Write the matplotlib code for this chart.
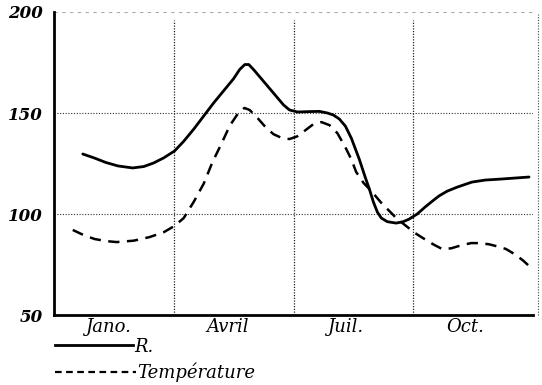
import matplotlib
matplotlib.use("Agg")
import matplotlib.pyplot as plt
from matplotlib.lines import Line2D

# Month position (0 = start of January, 12 = end of December) and values
r_months = [0.72, 1.0, 1.3, 1.6, 1.97, 2.25, 2.5, 2.75, 3.02, 3.25, 3.5, 3.75,
            4.0, 4.25, 4.5, 4.65, 4.78, 4.88, 5.0, 5.15, 5.3, 5.45, 5.6, 5.75,
            5.9, 6.1, 6.4, 6.65, 6.85, 7.0, 7.15, 7.3, 7.45, 7.65, 7.8, 7.9,
            8.0, 8.1, 8.2, 8.35, 8.57, 8.75, 8.9, 9.1, 9.3, 9.5, 9.65, 9.85,
            10.1, 10.47, 10.8, 11.2, 11.55, 11.9]
r_values = [129.7, 127.8, 125.5, 123.8, 122.8, 123.5, 125.3, 127.8, 131.2, 136.0,
            142.0, 148.5, 155.0, 161.0, 167.0, 171.5, 174.0, 174.0, 171.5, 168.0,
            164.5, 161.0, 157.5, 154.0, 151.5, 150.5, 150.7, 150.8, 150.0, 149.0,
            147.0, 143.5, 137.5, 127.0, 118.0, 112.4, 106.0, 101.0, 98.0, 96.2,
            95.5, 96.2, 97.5, 100.0, 103.5, 106.7, 109.0, 111.3, 113.3, 115.8,
            116.8, 117.3, 117.8, 118.3]

t_months = [0.47, 0.75, 1.02, 1.3, 1.57, 2.0, 2.4, 2.75, 3.02, 3.25, 3.5, 3.75,
            3.97, 4.2, 4.4, 4.6, 4.77, 4.9, 5.1, 5.3, 5.5, 5.7, 5.9, 6.1, 6.3,
            6.5, 6.7, 6.9, 7.1, 7.3, 7.45, 7.57, 7.75, 7.97, 8.2, 8.4, 8.6,
            8.82, 9.05, 9.25, 9.5, 9.72, 9.95, 10.2, 10.45, 10.65, 10.9, 11.1,
            11.32, 11.55, 11.75, 11.9]
t_values = [92.1, 89.5, 87.6, 86.6, 86.1, 86.8, 88.6, 91.0, 94.1, 98.0, 106.0,
            115.0, 125.7, 135.0, 143.6, 149.5, 152.5, 151.5, 147.5, 143.0, 139.5,
            137.7, 137.1, 138.5, 141.5, 144.5, 145.5, 144.0, 140.0, 133.0, 127.0,
            120.8, 115.5, 110.9, 105.5, 101.5, 97.5, 94.1, 90.5, 88.0, 85.0,
            82.7, 83.0, 84.5, 85.6, 85.6, 85.0, 84.0, 82.7, 80.0, 77.0, 74.3]

y_ticks = [50, 100, 150, 200]
y_labels = ["50", "100", "150", "200"]
quarter_centers = [1.35, 4.35, 7.3, 10.3]
quarter_labels = ["Jano.", "Avril", "Juil.", "Oct."]
quarter_edges = [3, 6, 9]
legend_labels = ["R.", "Température"]

fig = plt.figure(figsize=(5.42, 3.85), dpi=100)
ax = fig.add_axes([54 / 542, 1 - 315 / 385, (533 - 54) / 542, (315 - 12) / 385])
ax.set_xlim(0, 12)
ax.set_ylim(50, 200)

serif = ["DejaVu Serif"]

# Dotted reference grid
for v in [100, 150]:
    ax.axhline(v, color="#333333", lw=0.8, ls=(0, (1, 1.5)), zorder=1)
ax.axhline(200, color="#aaaaaa", lw=0.8, ls=(0, (3, 4)), zorder=1)
for q in quarter_edges:
    ax.plot([q, q], [50, 196], color="#222222", lw=0.9, ls=(0, (1, 1.2)), zorder=1)
ax.plot([12.12, 12.12], [50, 199], color="#444444", lw=0.8, ls=(0, (1, 1.5)),
        clip_on=False, zorder=1)

# Series
ax.plot(r_months, r_values, color="black", lw=2.0, solid_joinstyle="round",
        solid_capstyle="round", zorder=3)
ax.plot(t_months, t_values, color="black", lw=1.8, ls=(0, (4.5, 3)), zorder=3)

for s in ["top", "right"]:
    ax.spines[s].set_visible(False)
for s in ["left", "bottom"]:
    ax.spines[s].set_linewidth(2.0)
    ax.spines[s].set_color("black")

ax.set_yticks(y_ticks)
ax.set_yticklabels(y_labels, family=serif, style="italic", weight="bold", fontsize=12)
ax.set_xticks(quarter_centers)
ax.set_xticklabels(quarter_labels, family=serif, style="italic", fontsize=13)
ax.tick_params(axis="y", length=0, pad=8)
ax.tick_params(axis="x", length=0, pad=2)

# Legend drawn beneath the axes
fig.add_artist(Line2D([55 / 542, 133 / 542], [1 - 345 / 385] * 2, color="black",
                      lw=2.0))
fig.text(134 / 542, 1 - 347 / 385, legend_labels[0], family=serif, style="italic",
         fontsize=13, va="center", ha="left")
fig.add_artist(Line2D([55 / 542, 136 / 542], [1 - 372 / 385] * 2, color="black",
                      lw=1.6, ls=(0, (3, 2))))
fig.text(137 / 542, 1 - 372 / 385, legend_labels[1], family=serif, style="italic",
         fontsize=13, va="center", ha="left")

fig.savefig("out.png", dpi=100, facecolor="white")
